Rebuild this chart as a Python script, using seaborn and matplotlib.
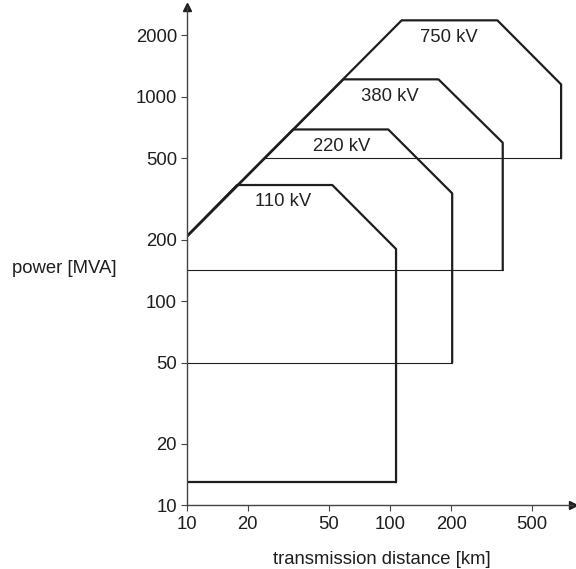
import matplotlib
matplotlib.use("Agg")
import matplotlib.pyplot as plt
import seaborn as sns
import numpy as np

# ---- data ----
voltages = ["110 kV", "220 kV", "380 kV", "750 kV"]
# outline of each operating region (left diagonal, top, right slope, right edge down to bottom)
outline_x = {
    "110 kV": [10, 17.7, 52, 107, 107],
    "220 kV": [10, 33.4, 98, 202, 202],
    "380 kV": [10, 59, 173, 358, 358],
    "750 kV": [10, 114, 337, 693, 693],
}
outline_y = {
    "110 kV": [207, 370, 370, 180, 13],
    "220 kV": [207, 692, 692, 337, 50],
    "380 kV": [207, 1217, 1217, 596, 142],
    "750 kV": [207, 2366, 2366, 1150, 500],
}
# bottom limits of each region (from left start to right edge)
bottom_level = [13, 50, 142, 500]
bottom_start = [10, 10, 10, 24]
bottom_end = [107, 202, 358, 693]
bottom_bold = [True, False, False, False]
# label positions
label_x = [29.9, 57.8, 100, 195]
label_y = [309, 574, 1007, 1960]

xticks = [10, 20, 50, 100, 200, 500]
yticks = [10, 20, 50, 100, 200, 500, 1000, 2000]

# ---- style ----
sns.set_theme(style="ticks")
plt.rcParams["font.family"] = ["Liberation Sans", "DejaVu Sans"]
FS = 13.3
plt.rcParams["font.size"] = FS

fig = plt.figure(figsize=(5.76, 5.69), dpi=100)
ax = fig.add_axes([0.324, 0.1116, 0.671, 0.8761])

line_col = "#1e1e1e"
for v in voltages:
    sns.lineplot(x=outline_x[v], y=outline_y[v], sort=False, estimator=None,
                 color=line_col, lw=1.6, ax=ax)
for lvl, xs, xe, bold in zip(bottom_level, bottom_start, bottom_end, bottom_bold):
    sns.lineplot(x=[xs, xe], y=[lvl, lvl], sort=False, estimator=None,
                 color=line_col, lw=1.6 if bold else 0.8, ax=ax)
for v, lx, ly in zip(voltages, label_x, label_y):
    ax.text(lx, ly, v, ha="center", va="center", fontsize=FS, color="#222222")

ax.set_xscale("log")
ax.set_yscale("log")
ax.set_xlim(10, 794)
ax.set_ylim(10, 2750)
ax.set_xticks(xticks)
ax.set_xticklabels([str(t) for t in xticks])
ax.set_yticks(yticks)
ax.set_yticklabels([str(t) for t in yticks])
ax.minorticks_off()
ax.tick_params(axis="both", direction="out", length=4, width=0.8, colors="#444444",
               labelcolor="#1e1e1e", labelsize=FS)
ax.tick_params(axis="x", pad=3.5)
ax.tick_params(axis="y", pad=3)

sns.despine(ax=ax)
for s in ["left", "bottom"]:
    ax.spines[s].set_color("#444444")
    ax.spines[s].set_linewidth(1.0)

# axis arrows
ax.plot(1, 0, ">", color="#1e1e1e", ms=6, transform=ax.transAxes, clip_on=False)
ax.plot(0, 1, "^", color="#1e1e1e", ms=6, transform=ax.transAxes, clip_on=False)

ax.set_xlabel("transmission distance [km]", fontsize=FS, color="#1e1e1e", va="center")
ax.xaxis.set_label_coords(0.505, -0.109)
ax.set_ylabel("power [MVA]", rotation=0, ha="right", va="center", fontsize=FS,
              color="#1e1e1e")
ax.yaxis.set_label_coords(-0.180, 0.476)

fig.savefig("out.png", dpi=100)
